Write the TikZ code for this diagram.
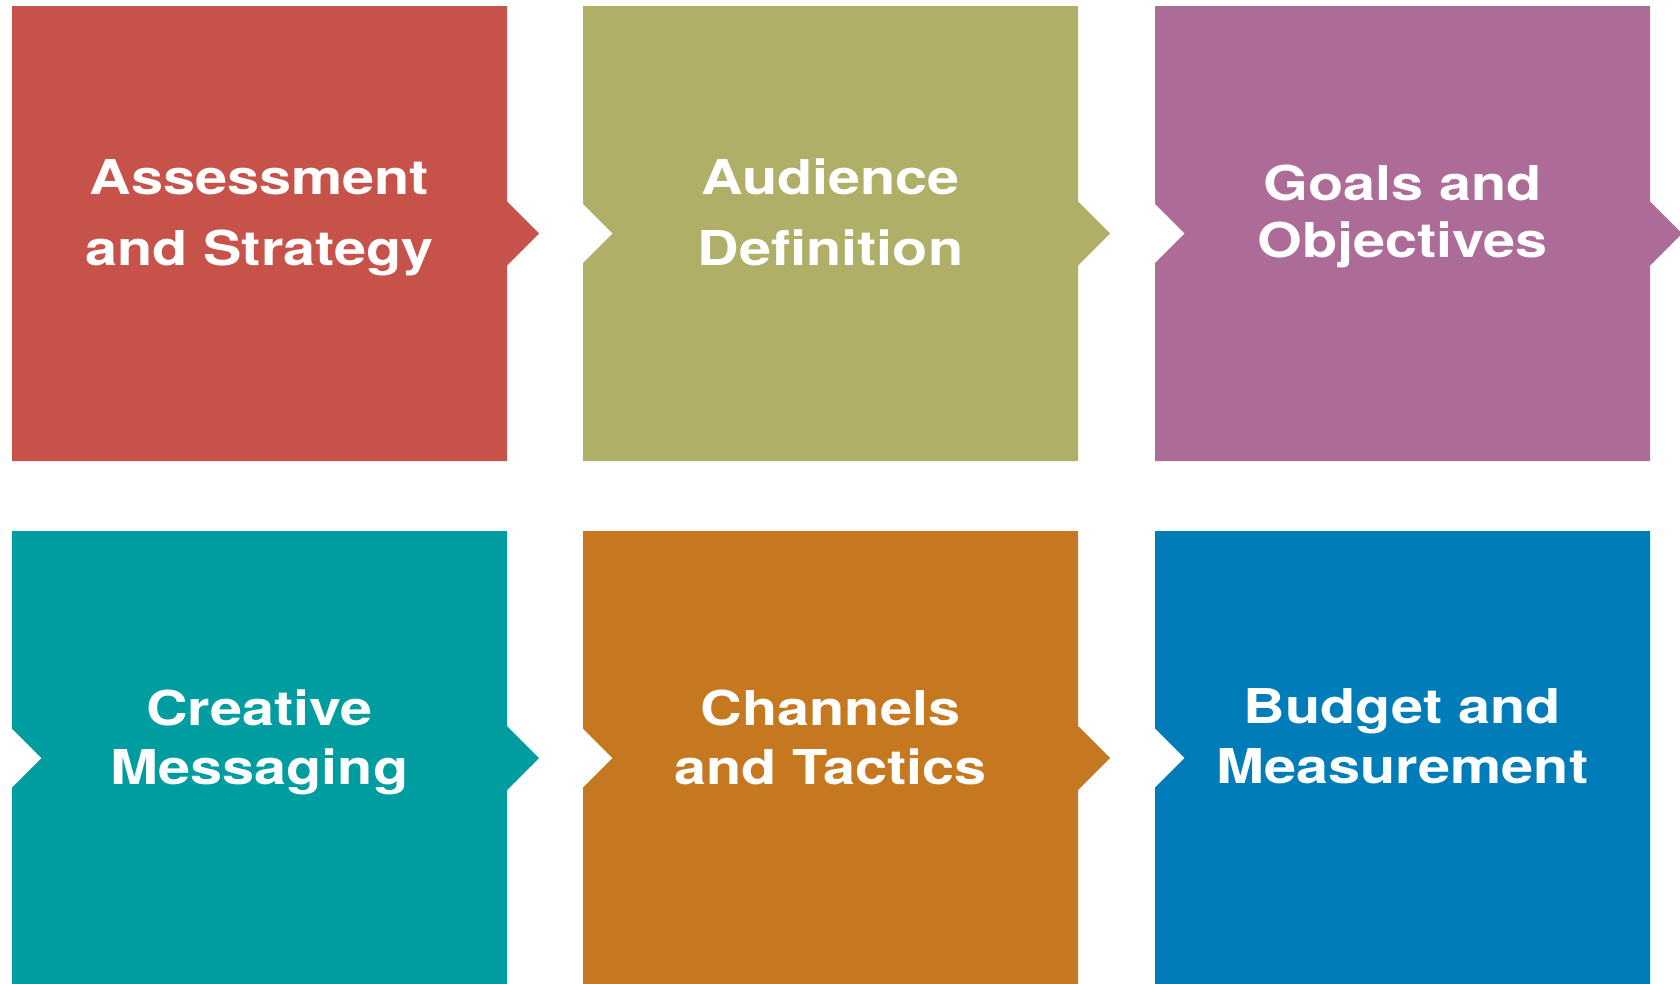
\documentclass[tikz,border=0pt]{standalone}
\usepackage{fontspec}
\setmainfont{TeX Gyre Heros}[FakeStretch=1.2, BoldFont={* Bold}, BoldFeatures={FakeStretch=1.2}]
\definecolor{cRed}{HTML}{C7524A}
\definecolor{cOlive}{HTML}{B0AF68}
\definecolor{cPurple}{HTML}{AD6B98}
\definecolor{cTeal}{HTML}{009DA0}
\definecolor{cOrange}{HTML}{C5781F}
\definecolor{cBlue}{HTML}{007CB8}
\begin{document}
\begin{tikzpicture}[x=1pt,y=-1pt,
  steptext/.style={text=white, font=\fontsize{48}{48}\selectfont\bfseries, anchor=base, inner sep=0pt}]
\useasboundingbox (0,0) rectangle (1680,983);
% box geometry: width 495, arrow 32 out, notch 29.5 in
% top row: y 6..461, centre 233.5 ; bottom row: y 531..985, centre 758
\fill[cRed] (12,6) -- (507,6) -- (507,201.5) -- (539,233.5) -- (507,265.5) -- (507,461) -- (12,461) -- cycle;
\fill[cOlive] (583,6) -- (1078,6) -- (1078,201.5) -- (1110,233.5) -- (1078,265.5) -- (1078,461) -- (583,461) -- (583,263) -- (612.5,233.5) -- (583,204) -- cycle;
\fill[cPurple] (1155,6) -- (1650,6) -- (1650,201.5) -- (1682,233.5) -- (1650,265.5) -- (1650,461) -- (1155,461) -- (1155,263) -- (1184.5,233.5) -- (1155,204) -- cycle;
\fill[cTeal] (12,531) -- (507,531) -- (507,726) -- (539,758) -- (507,790) -- (507,990) -- (12,990) -- (12,787.5) -- (41.5,758) -- (12,728.5) -- cycle;
\fill[cOrange] (583,531) -- (1078,531) -- (1078,726) -- (1110,758) -- (1078,790) -- (1078,990) -- (583,990) -- (583,787.5) -- (612.5,758) -- (583,728.5) -- cycle;
\fill[cBlue] (1155,531) -- (1650,531) -- (1650,990) -- (1155,990) -- (1155,787.5) -- (1184.5,758) -- (1155,728.5) -- cycle;
% labels
\node[steptext] (t1a) at (259.5,194) {Assessment};
\node[steptext] (t1b) at (259.5,265) {and Strategy};
\node[steptext] (t2a) at (830.5,194) {Audience};
\node[steptext] (t2b) at (830.5,265) {Definition};
\node[steptext] (t3a) at (1402.5,200) {Goals and};
\node[steptext] (t3b) at (1402.5,257) {Objectives};
\node[steptext] (t4a) at (259.5,725) {Creative};
\node[steptext] (t4b) at (259.5,784) {Messaging};
\node[steptext] (t5a) at (830.5,725) {Channels};
\node[steptext] (t5b) at (830.5,784) {and Tactics};
\node[steptext] (t6a) at (1402.5,723) {Budget and};
\node[steptext] (t6b) at (1402.5,783) {Measurement};
\end{tikzpicture}
\end{document}
